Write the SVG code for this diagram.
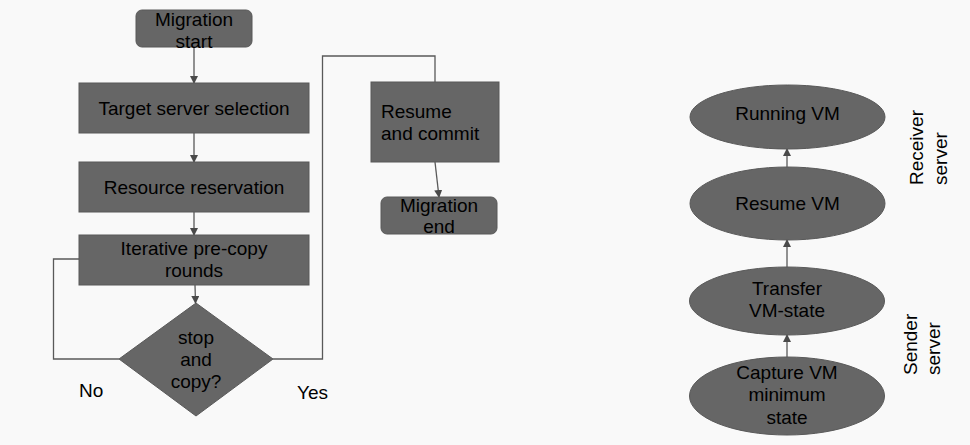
<svg xmlns="http://www.w3.org/2000/svg" width="970" height="445" viewBox="0 0 970 445">
<style>
.bx{fill:#666666;stroke:#595959;stroke-width:1}
.t{font-family:"Liberation Sans",Arial,sans-serif;font-size:19px;fill:#000}
.c{text-anchor:middle}
.ln{fill:none;stroke:#595959;stroke-width:1.3}
</style>
<defs>
<marker id="ah" markerWidth="8" markerHeight="8" refX="7" refY="4" orient="auto" markerUnits="userSpaceOnUse">
<path d="M0,0 L8,4 L0,8 Z" fill="#4a4a4a"/>
</marker>
</defs>
<rect width="970" height="445" fill="#f9f9f9"/>
<g id="connectors">
<line class="ln" x1="194" y1="47" x2="194" y2="83" marker-end="url(#ah)"/>
<line class="ln" x1="194" y1="133" x2="194" y2="162" marker-end="url(#ah)"/>
<line class="ln" x1="194" y1="212" x2="194" y2="235" marker-end="url(#ah)"/>
<line class="ln" x1="195" y1="285" x2="195.5" y2="303" marker-end="url(#ah)"/>
<polyline class="ln" points="119,359 53.5,359 53.5,259 79,259"/>
<polyline class="ln" points="273,359 322.5,359 322.5,56 435,56 435,82"/>
<line class="ln" x1="435" y1="162" x2="439" y2="197" marker-end="url(#ah)"/>
<line class="ln" x1="787" y1="167" x2="787" y2="149" marker-end="url(#ah)"/>
<line class="ln" x1="787" y1="267" x2="787" y2="240" marker-end="url(#ah)"/>
<line class="ln" x1="787" y1="357" x2="787" y2="335" marker-end="url(#ah)"/>
</g>
<g id="migration-start">
<rect class="bx" x="136" y="10" width="116" height="37" rx="6"/>
<text class="t c" x="194" y="26">Migration</text>
<text class="t c" x="194" y="48">start</text>
</g>
<g id="target-server-selection">
<rect class="bx" x="79" y="83" width="230" height="50"/>
<text class="t c" x="194" y="115">Target server selection</text>
</g>
<g id="resource-reservation">
<rect class="bx" x="79" y="162" width="230" height="50"/>
<text class="t c" x="194" y="194">Resource reservation</text>
</g>
<g id="iterative-pre-copy">
<rect class="bx" x="79" y="235" width="230" height="50"/>
<text class="t c" x="194" y="255">Iterative pre-copy</text>
<text class="t c" x="194" y="277">rounds</text>
</g>
<g id="stop-and-copy">
<polygon class="bx" points="196,303 273,359 196,416 119,359"/>
<text class="t c" x="196" y="344">stop</text>
<text class="t c" x="196" y="366">and</text>
<text class="t c" x="196" y="388">copy?</text>
</g>
<g id="label-no"><text class="t" x="79" y="397">No</text></g>
<g id="label-yes"><text class="t" x="297" y="399">Yes</text></g>
<g id="resume-and-commit">
<rect class="bx" x="371" y="82" width="128" height="80"/>
<text class="t" x="381" y="118">Resume</text>
<text class="t" x="381" y="140">and commit</text>
</g>
<g id="migration-end">
<rect class="bx" x="381" y="197" width="116" height="37" rx="6"/>
<text class="t c" x="439" y="212">Migration</text>
<text class="t c" x="439" y="233">end</text>
</g>
<g id="running-vm">
<ellipse class="bx" cx="787.5" cy="117" rx="97.5" ry="32"/>
<text class="t c" x="787.5" y="120">Running VM</text>
</g>
<g id="resume-vm">
<ellipse class="bx" cx="787.5" cy="203.5" rx="97.5" ry="36.5"/>
<text class="t c" x="787.5" y="210">Resume VM</text>
</g>
<g id="transfer-vm-state">
<ellipse class="bx" cx="787" cy="301" rx="97.5" ry="34"/>
<text class="t c" x="787" y="295">Transfer</text>
<text class="t c" x="787" y="317">VM-state</text>
</g>
<g id="capture-vm">
<ellipse class="bx" cx="787" cy="396" rx="97.5" ry="39"/>
<text class="t c" x="787" y="379">Capture VM</text>
<text class="t c" x="787" y="401">minimum</text>
<text class="t c" x="787" y="424">state</text>
</g>
<g id="receiver-server">
<text class="t" transform="translate(923,185) rotate(-90)">Receiver</text>
<text class="t" transform="translate(946.5,185) rotate(-90)">server</text>
</g>
<g id="sender-server">
<text class="t" transform="translate(916.5,375) rotate(-90)">Sender</text>
<text class="t" transform="translate(940,375) rotate(-90)">server</text>
</g>
</svg>
